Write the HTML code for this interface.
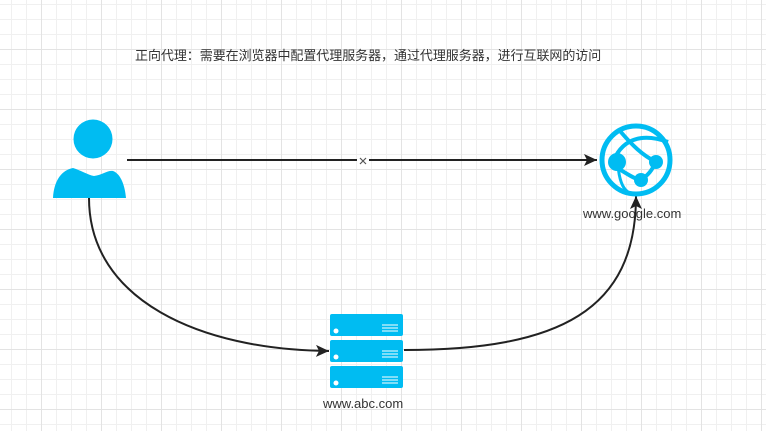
<!DOCTYPE html>
<html><head><meta charset="utf-8"><style>
html,body{margin:0;padding:0;background:#fff;}
body{width:766px;height:431px;overflow:hidden;position:relative;
background-image:
linear-gradient(to right,#e3e3e3 1px,transparent 1px),
linear-gradient(to bottom,#e3e3e3 1px,transparent 1px),
linear-gradient(to right,#f0f0f0 1px,transparent 1px),
linear-gradient(to bottom,#f0f0f0 1px,transparent 1px);
background-size:60px 60px,60px 60px,15px 15px,15px 15px;
background-position:41px 0,0 49px,11px 0,0 4px;}
.t{position:absolute;font-family:"Liberation Sans","Noto Sans CJK SC",sans-serif;color:#333;white-space:nowrap;}
</style></head><body>
<div class="t" style="left:135px;top:45px;font-size:13px;letter-spacing:-0.05px">正向代理：需要在浏览器中配置代理服务器，通过代理服务器，进行互联网的访问</div>
<svg width="766" height="431" style="position:absolute;left:0;top:0">
<defs><marker id="a" markerWidth="14" markerHeight="14" refX="13" refY="6" orient="auto" markerUnits="userSpaceOnUse"><path d="M0,0 L13,6 L0,12 L3,6Z" fill="#222"/></marker></defs>
<circle cx="93" cy="139" r="19.5" fill="#00bcf2"/>
<path d="M53,198 C54,180 62,170 73,168 C80,170 88,175 94,176 C102,175 108,170 113,171 C121,174 125,186 126,198 Z" fill="#00bcf2"/>
<line x1="127" y1="160" x2="357" y2="160" stroke="#222" stroke-width="2"/>
<line x1="369" y1="160" x2="597" y2="160" stroke="#222" stroke-width="2" marker-end="url(#a)"/>
<path d="M360,158 l6,6 M366,158 l-6,6" stroke="#555" stroke-width="1.2"/>
<path d="M89,198 C89,300 200,350 329,351" fill="none" stroke="#222" stroke-width="2" marker-end="url(#a)"/>
<path d="M404,350 C560,350 636,310 636,196" fill="none" stroke="#222" stroke-width="2" marker-end="url(#a)"/>
<circle cx="636" cy="160" r="34" fill="none" stroke="#00bcf2" stroke-width="5"/>
<path d="M612,165 C620,140 640,132 668,142" fill="none" stroke="#00bcf2" stroke-width="4"/>
<path d="M620,131 C632,145 642,155 656,162" fill="none" stroke="#00bcf2" stroke-width="4"/>
<path d="M612,165 C625,172 632,178 640,180 C648,176 652,170 656,162" fill="none" stroke="#00bcf2" stroke-width="4"/>
<path d="M618,165 C619,178 622,188 628,192" fill="none" stroke="#00bcf2" stroke-width="3"/>
<circle cx="617" cy="162" r="9" fill="#00bcf2"/>
<circle cx="656" cy="162" r="7" fill="#00bcf2"/>
<circle cx="641" cy="180" r="7" fill="#00bcf2"/>
<g fill="#00bcf2">
<rect x="330" y="314" width="73" height="22" rx="2"/>
<rect x="330" y="340" width="73" height="22" rx="2"/>
<rect x="330" y="366" width="73" height="22" rx="2"/>
</g>
<g fill="#fff"><circle cx="336" cy="331" r="2.5"/><circle cx="336" cy="357" r="2.5"/><circle cx="336" cy="383" r="2.5"/></g>
<g stroke="#fff" stroke-width="1">
<path d="M382,325h16M382,328h16M382,331h16M382,351h16M382,354h16M382,357h16M382,377h16M382,380h16M382,383h16"/>
</g>
</svg>
<div class="t" style="left:583px;top:206px;font-size:13px">www.google.com</div>
<div class="t" style="left:323px;top:396px;font-size:13px">www.abc.com</div>
</body></html>
